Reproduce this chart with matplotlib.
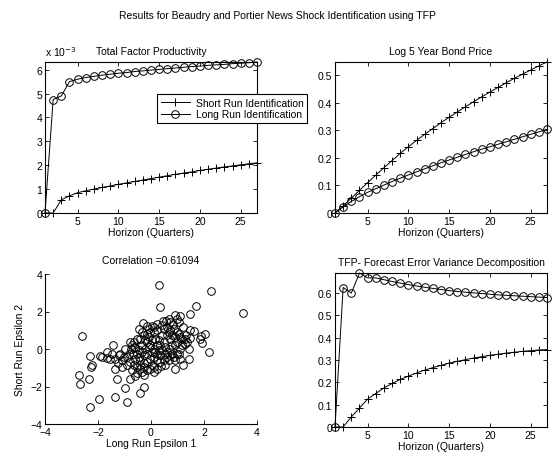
import numpy as np
import matplotlib
matplotlib.use('Agg')
import matplotlib.pyplot as plt
from matplotlib.ticker import FuncFormatter

plt.rcParams['font.family'] = ['Liberation Sans', 'DejaVu Sans']
plt.rcParams['font.size'] = 7.5

# impulse responses over 27 quarters
horizon = np.arange(1, 28)

tfp_short = np.array([0, 0, 0.55, 0.72, 0.85, 0.93, 1.0, 1.07, 1.13, 1.2, 1.26, 1.32, 1.38,
                      1.44, 1.5, 1.56, 1.62, 1.67, 1.72, 1.78, 1.83, 1.88, 1.93, 1.97, 2.02,
                      2.06, 2.1]) * 1e-3
tfp_long = np.array([0, 4.75, 4.9, 5.5, 5.6, 5.67, 5.72, 5.77, 5.81, 5.85, 5.88, 5.92, 5.95,
                     5.98, 6.01, 6.04, 6.07, 6.1, 6.13, 6.15, 6.18, 6.2, 6.22, 6.25, 6.27,
                     6.29, 6.32]) * 1e-3

bond_short = [0, 0.026, 0.054, 0.082, 0.11, 0.137, 0.164, 0.19, 0.216, 0.24, 0.263, 0.285,
              0.306, 0.327, 0.347, 0.366, 0.385, 0.403, 0.421, 0.438, 0.455, 0.472, 0.488,
              0.503, 0.518, 0.533, 0.547]
bond_long = [0, 0.022, 0.042, 0.059, 0.075, 0.088, 0.101, 0.114, 0.126, 0.138, 0.149, 0.16,
             0.171, 0.182, 0.192, 0.202, 0.212, 0.222, 0.231, 0.24, 0.249, 0.258, 0.267,
             0.276, 0.285, 0.294, 0.303]

fevd_short = [0, 0, 0.045, 0.085, 0.125, 0.15, 0.175, 0.195, 0.213, 0.228, 0.242, 0.255,
              0.266, 0.276, 0.286, 0.294, 0.302, 0.309, 0.315, 0.321, 0.326, 0.331, 0.335,
              0.339, 0.342, 0.345, 0.347]
fevd_long = [0, 0.625, 0.6, 0.69, 0.668, 0.668, 0.66, 0.652, 0.645, 0.638, 0.632, 0.626,
             0.621, 0.616, 0.611, 0.607, 0.604, 0.601, 0.598, 0.595, 0.592, 0.59, 0.588,
             0.586, 0.584, 0.582, 0.58]

# identified shocks
eps_long = [0.31, 2.27, 3.46, 0.35, 1.70, 1.46, -2.61, 0.92, 1.11, -0.31, -0.47, 0.04, -0.15,
            0.57, 0.40, 0.73, 0.98, 1.05, 1.49, 1.61, 2.02, 1.90, 1.86, 1.93, 2.18, 1.42,
            0.92, 1.21, 1.49, 1.30, 1.27, 1.11, 0.98, 0.73, 0.60, 0.39, 0.13, -0.28, -0.40,
            -0.53, -0.78, -0.28, -0.40, -0.91, -0.98, -1.34, -1.29, -1.35, -1.96, -2.32,
            -2.34, -2.71, -2.68, -2.27, -2.22, -2.30, -1.91, -1.84, -1.66, -1.43, -1.47,
            -1.35, -1.26, -1.10, -1.03, -1.16, -0.91, -0.81, -0.72, -0.76, -0.65, -0.59,
            -0.53, -0.59, -0.40, -0.34, -0.47, -0.28, -0.21, -0.15, -0.09, -0.03, 0.04, 0.10,
            0.16, 0.23, 0.29, 0.35, 0.42, 0.48, 0.54, 0.60, 0.67, 0.73, 0.79, 0.86, 0.92,
            0.98, 1.05, 1.17, 0.48, 0.60, 0.23, 0.10, -0.15, -0.28, -0.53, -0.65, -0.40,
            -0.15, -0.03, 0.23, 0.48, 0.73, 0.79, 0.86, -0.15, 0.04, -0.65, -0.53, -0.34,
            -0.72, 0.16, -0.09, 0.04, 0.29, 0.35, 0.60, 0.79, 0.92, 1.05, 1.17, 1.36, 1.33,
            1.21, 0.83, 0.67, 0.45, 0.23, -0.09, -0.34, -0.21, -0.34, -0.15, 0.10, 0.23,
            0.42, 0.54, 0.67, 0.92, 1.11, -0.84, -0.97, -0.78, -0.91, -1.10, -1.22, -1.66,
            -1.54, -0.03, 0.23, 0.35, -0.28, -0.47, -0.68, -0.05, 0.10, 0.73, 0.98, 1.11,
            1.42, 0.54, 0.13, -0.43, -0.59, -0.25]
eps_short = [3.42, 3.12, 1.91, 2.23, 2.30, 1.89, 0.69, 1.82, 1.75, 1.40, 1.08, 1.22, 1.22,
             1.47, 1.29, 1.43, 1.61, 1.43, 0.99, 0.96, 0.78, 0.67, 0.51, 0.34, -0.16, -0.51,
             -1.04, -0.83, 0.58, 0.55, 0.28, 0.02, -0.25, -0.34, -0.42, -0.92, -0.96, -0.96,
             -0.87, -1.26, -1.58, -2.02, -2.37, -2.85, -2.07, -2.55, -1.61, -1.08, -2.65,
             -3.08, -1.59, -1.38, -1.88, -0.96, -0.83, -0.35, -0.37, -0.41, -0.48, 0.19,
             -0.25, -0.55, -0.73, -0.60, -0.42, -0.25, -0.83, -0.69, 0.19, 0.02, 0.37, 0.05,
             -0.25, -0.51, 0.55, 0.23, -0.07, -0.34, 0.02, 0.37, 0.64, 0.19, -0.16, -0.42,
             0.55, 0.19, -0.07, -0.34, 0.73, 0.37, 0.11, -0.16, 0.90, 0.55, 0.19, 1.08, 0.64,
             0.37, 0.81, 0.55, 1.08, 1.17, 0.99, 0.90, 0.81, 0.73, 0.55, 0.11, -0.60, -0.69,
             -0.51, -0.60, -0.60, 0.02, -0.25, -0.42, -1.13, -0.87, -0.87, -0.96, -1.22,
             -1.13, -0.16, 0.11, 0.46, 0.46, 0.19, 0.73, 0.73, 0.19, -0.25, 0.19, 0.37, 0.73,
             1.17, 1.35, 1.61, 1.52, 1.35, 1.08, 0.90, 0.46, -0.16, -0.25, 0.02, -0.25,
             -0.07, -0.25, -0.60, -0.60, -0.51, -0.25, 0.02, 0.37, -0.42, -0.96, -0.34,
             -0.16, -0.51, -1.04, -1.04, -0.69, -0.73, -0.42, -0.25, 0.90, 1.17, 0.99, 0.90,
             0.64, 0.02, -0.87, -1.22, -1.08, -1.43, -1.40]

W, H = 554., 460.


def box_axes(fig, x0, y0, x1, y1):
    # pixel box (left, top, right, bottom) -> figure fraction
    ax = fig.add_axes([x0 / W, 1 - y1 / H, (x1 - x0) / W, (y1 - y0) / H])
    ax.tick_params(direction='in', length=3, width=0.6, top=True, right=True, pad=2)
    for s in ax.spines.values():
        s.set_linewidth(0.8)
    return ax


def gfmt(v, pos):
    return '%g' % round(v, 6)


fig = plt.figure(figsize=(5.54, 4.60), dpi=100)
fig.text(0.5, 1 - 16 / H, 'Results for Beaudry and Portier News Shock Identification using TFP',
         ha='center', va='center', fontsize=7.5)

lk = dict(color='black', lw=0.7, ms=5.5, mew=0.7, mfc='none')

# TFP response
ax1 = box_axes(fig, 45, 63, 257, 214)
l1, = ax1.plot(horizon, tfp_short, marker='+', label='Short Run Identification', **lk)
l2, = ax1.plot(horizon, tfp_long, marker='o', label='Long Run Identification', **lk)
ax1.set_xlim(1, 27)
ax1.set_ylim(0, max(tfp_long))
ax1.set_xticks([5, 10, 15, 20, 25])
ax1.set_yticks(np.arange(0, 7) * 1e-3)
ax1.yaxis.set_major_formatter(FuncFormatter(lambda v, p: '%g' % round(v * 1e3, 6)))
ax1.set_title('Total Factor Productivity', fontsize=7.5, pad=6)
ax1.set_xlabel('Horizon (Quarters)', labelpad=1)
ax1.text(0.0, 1.025, r'x 10$^{-3}$', transform=ax1.transAxes, ha='left', va='bottom', fontsize=7.5)

# bond price response
ax2 = box_axes(fig, 335, 63, 547, 214)
ax2.plot(horizon, bond_short, marker='+', **lk)
ax2.plot(horizon, bond_long, marker='o', **lk)
ax2.set_xlim(1, 27)
ax2.set_ylim(0, max(bond_short))
ax2.set_xticks([5, 10, 15, 20, 25])
ax2.set_yticks([0, 0.1, 0.2, 0.3, 0.4, 0.5])
ax2.yaxis.set_major_formatter(FuncFormatter(gfmt))
ax2.set_title('Log 5 Year Bond Price', fontsize=7.5, pad=6)
ax2.set_xlabel('Horizon (Quarters)', labelpad=1)

# scatter of the two shocks
ax3 = box_axes(fig, 45, 275, 257, 425)
ax3.tick_params(top=False, right=False)
ax3.spines['top'].set_visible(False)
ax3.spines['right'].set_visible(False)
ax3.plot(eps_long, eps_short, 'o', color='black', ms=5.5, mew=0.7, mfc='none')
ax3.set_xlim(-4, 4)
ax3.set_ylim(-4, 4)
ax3.set_xticks([-4, -2, 0, 2, 4])
ax3.set_yticks([-4, -2, 0, 2, 4])
ax3.set_title('Correlation =0.61094', fontsize=7.5, pad=8)
ax3.set_xlabel('Long Run Epsilon 1', labelpad=1)
ax3.set_ylabel('Short Run Epsilon 2', labelpad=4)

# variance decomposition
ax4 = box_axes(fig, 335, 274, 547, 428)
ax4.plot(horizon, fevd_short, marker='+', **lk)
ax4.plot(horizon, fevd_long, marker='o', **lk)
ax4.set_xlim(1, 27)
ax4.set_ylim(0, max(fevd_long))
ax4.set_xticks([5, 10, 15, 20, 25])
ax4.set_yticks([0, 0.1, 0.2, 0.3, 0.4, 0.5, 0.6])
ax4.yaxis.set_major_formatter(FuncFormatter(gfmt))
ax4.set_title('TFP- Forecast Error Variance Decomposition', fontsize=7.5, pad=6)
ax4.set_xlabel('Horizon (Quarters)', labelpad=1)

for a in (ax1, ax2, ax4):
    for ln in a.lines:
        ln.set_clip_on(False)

leg = fig.legend(handles=[l1, l2], loc='upper left', bbox_to_anchor=(157 / W, 1 - 95 / H),
                 fancybox=False, framealpha=1, edgecolor='black', borderpad=0.35,
                 handlelength=2.8, handletextpad=0.6, labelspacing=0.15, fontsize=7.5,
                 borderaxespad=0)
leg.get_frame().set_linewidth(0.8)

plt.savefig('out.png', dpi=100)
plt.close()
